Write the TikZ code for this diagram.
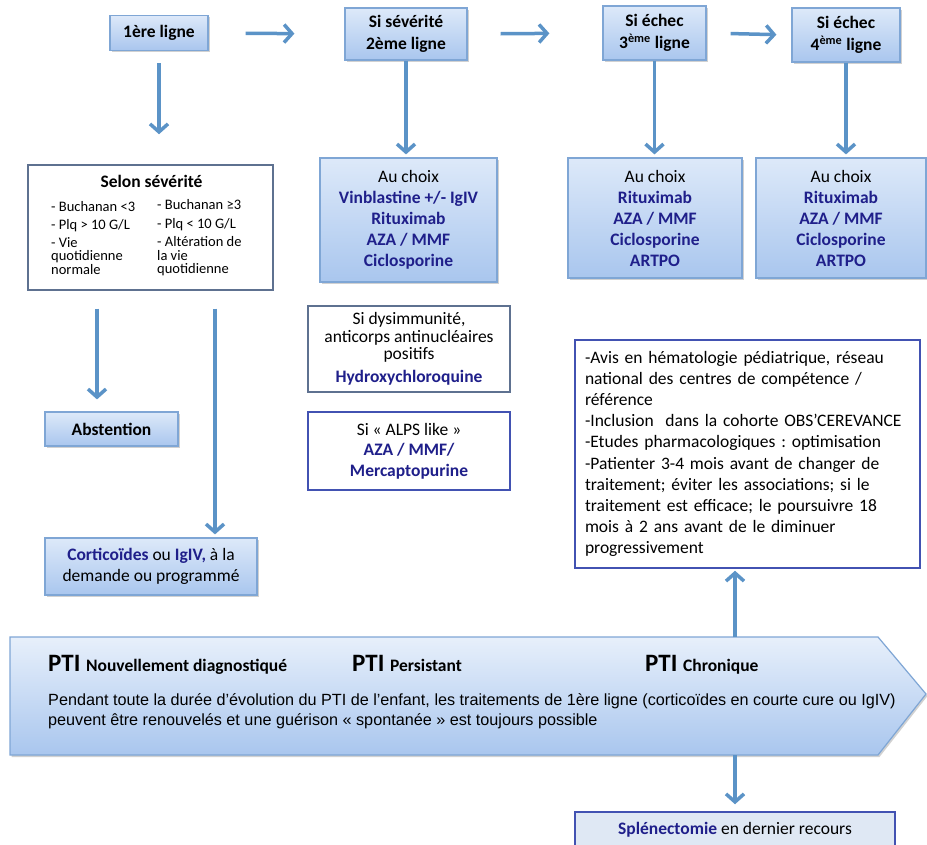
\documentclass[tikz,border=0pt]{standalone}
\usepackage{fontspec}
\setmainfont{Carlito}
\newfontfamily\arialfont{Liberation Sans}
\usetikzlibrary{arrows.meta,shadows}
\definecolor{boxtop}{HTML}{DDE9F9}
\definecolor{boxbot}{HTML}{A9C6EE}
\definecolor{boxline}{HTML}{7FA6D5}
\definecolor{flowblue}{HTML}{5B93C7}
\definecolor{navytxt}{HTML}{1F1F8A}
\definecolor{greyline}{HTML}{5E7190}
\definecolor{indigoline}{HTML}{4252B2}
\definecolor{splenfill}{HTML}{DFE8F4}
\newcommand{\drugname}[1]{\textbf{\textcolor{navytxt}{#1}}}
\frenchspacing

\begin{document}
\begin{tikzpicture}[x=1pt,y=-1pt,
 	bodyfont/.style={font=\fontsize{17.5}{21}\selectfont},
 	headfont/.style={font=\fontsize{17.5}{22}\selectfont\bfseries},
 	listfont/.style={font=\fontsize{14.5}{13.5}\selectfont},
 	bluebox/.style={draw=boxline, line width=1.2pt, top color=boxtop, bottom color=boxbot, inner sep=0pt, align=center, bodyfont,
 		drop shadow={shadow xshift=1.5pt, shadow yshift=-2pt, opacity=0.3, fill=black!60}},
 	whitebox/.style={draw=greyline, line width=1.5pt, fill=white, inner sep=0pt, align=center, bodyfont},
 	flow/.style={draw=flowblue, line width=3.5pt, -{Straight Barb[length=8pt,width=18pt]}}]
 	\useasboundingbox (0,0) rectangle (927,845);
 	\clip (0,0) rectangle (927,845);

 	\node[bluebox, headfont, minimum width=98pt, minimum height=35pt] (l1) at (159,33) {1ère ligne};
 	\node[bluebox, headfont, minimum width=122pt, minimum height=52pt] (l2) at (406,34) {Si sévérité\\2ème ligne};
 	\node[bluebox, headfont, minimum width=103pt, minimum height=54pt] (l3) at (654.5,33) {Si échec\\3\textsuperscript{ème} ligne};
 	\node[bluebox, headfont, minimum width=108pt, minimum height=54pt] (l4) at (846,35) {Si échec\\4\textsuperscript{ème} ligne};

 	\node[whitebox, minimum width=245pt, minimum height=125pt] (selon) at (150.5,227.5) {};
 	\node[headfont, inner sep=0pt] (selontitle) at (151.5,181) {Selon sévérité};
 	\node[listfont, align=left, inner sep=0pt, anchor=north west] (selonleft) at (51,201) {- Buchanan <3\\[4.5pt]- Plq > 10 G/L\\[4.5pt]- Vie\\quotidienne\\normale};
 	\node[listfont, align=left, inner sep=0pt, anchor=north west] (selonright) at (157,199) {- Buchanan ≥3\\[6pt]- Plq < 10 G/L\\[4.5pt]- Altération de\\la vie\\quotidienne};

 	\node[bluebox, minimum width=177pt, minimum height=124pt] (c2) at (408.5,220) {Au choix\\\drugname{Vinblastine +/- IgIV}\\\drugname{Rituximab}\\\drugname{AZA / MMF}\\\drugname{Ciclosporine}};
 	\node[bluebox, minimum width=174pt, minimum height=120pt] (c3) at (655,218) {Au choix\\\drugname{Rituximab}\\\drugname{AZA / MMF}\\\drugname{Ciclosporine}\\\drugname{ARTPO}};
 	\node[bluebox, minimum width=170pt, minimum height=120pt] (c4) at (841,218) {Au choix\\\drugname{Rituximab}\\\drugname{AZA / MMF}\\\drugname{Ciclosporine}\\\drugname{ARTPO}};

 	\node[whitebox, draw=greyline, font=\fontsize{17.5}{17.5}\selectfont, minimum width=202pt, minimum height=86pt] (hydro) at (409,349) {Si dysimmunité,\\anticorps antinucléaires\\positifs\\[5pt]\drugname{Hydroxychloroquine}};
 	\node[whitebox, draw=indigoline, font=\fontsize{17.5}{20.5}\selectfont, minimum width=202pt, minimum height=78pt] (alps) at (409,451) {Si «~ALPS like~»\\\drugname{AZA / MMF/}\\\drugname{Mercaptopurine}};

 	\node[whitebox, draw=indigoline, font=\fontsize{17.5}{21.2}\selectfont, align=left, text width=325pt, inner xsep=10pt, minimum height=228pt] (info) at (747.5,454) {-Avis en hématologie pédiatrique, réseau\\national des centres de compétence /\\référence\\-Inclusion\ \ dans la cohorte OBS’CEREVANCE\\-Etudes pharmacologiques : optimisation\\-Patienter 3-4 mois avant de changer de\\traitement; éviter les associations; si le\\traitement est efficace; le poursuivre 18\\mois à 2 ans avant de le diminuer\\progressivement};

 	\node[bluebox, headfont, minimum width=133pt, minimum height=34pt] (abst) at (111.5,429) {Abstention};
 	\node[bluebox, minimum width=212pt, minimum height=57pt] (cort) at (151,566.5) {\drugname{Corticoïdes} ou \drugname{IgIV,} à la\\demande ou programmé};

 	\path[draw=boxline, line width=1.2pt, top color=boxtop!70, bottom color=boxbot,
 		drop shadow={shadow xshift=1.5pt, shadow yshift=-2pt, opacity=0.3, fill=black!60}]
 		(10,637) -- (878,637) -- (926,694) -- (878,755) -- (10,755) -- cycle;
 	\coordinate (ptitop) at (735,637);
 	\coordinate (ptibot) at (735,755);
 	\node[anchor=base west, inner sep=0pt, font=\bfseries] (ptinew) at (48,671) {\fontsize{25}{25}\selectfont PTI \fontsize{17.5}{17.5}\selectfont Nouvellement diagnostiqué};
 	\node[anchor=base west, inner sep=0pt, font=\bfseries] (ptipers) at (352,671) {\fontsize{25}{25}\selectfont PTI \fontsize{17.5}{17.5}\selectfont Persistant};
 	\node[anchor=base west, inner sep=0pt, font=\bfseries] (pticron) at (645,671) {\fontsize{25}{25}\selectfont PTI \fontsize{17.5}{17.5}\selectfont Chronique};
 	\node[anchor=north west, inner sep=0pt, align=left, font=\arialfont\fontsize{16.2}{20.5}\selectfont] (ptitext) at (48,693) {Pendant toute la durée d’évolution du PTI de l’enfant, les traitements de 1ère ligne (corticoïdes en courte cure ou IgIV)\\peuvent être renouvelés et une guérison «~spontanée~» est toujours possible};

 	\node[whitebox, draw=indigoline, fill=splenfill, minimum width=320pt, minimum height=36pt] (splen) at (735,830) {\drugname{Splénectomie} en dernier recours};

 	\draw[flow, shorten <=37pt, shorten >=50pt] (l1.east) -- (l2.west);
 	\draw[flow, shorten <=33pt, shorten >=53pt] (l2.east) -- (l3.west);
 	\draw[flow, shorten <=24pt, shorten >=15pt] (l3.east) -- (l4.west);
 	\draw[flow, shorten <=12pt, shorten >=30pt] (l1.south) -- (l1.south |- selon.north);
 	\draw[flow, shorten >=3pt] (l2.south) -- (l2.south |- c2.north);
 	\draw[flow, shorten >=3pt] (l3.south) -- (l3.south |- c3.north);
 	\draw[flow, shorten >=3pt] (l4.south) -- (l4.south |- c4.north);
 	\coordinate (abstin) at ([xshift=-14.5pt]abst.north);
 	\coordinate (cortin) at ([xshift=64pt]cort.north);
 	\draw[flow, shorten <=18pt, shorten >=12pt] (abstin |- selon.south) -- (abstin);
 	\draw[flow, shorten <=18pt, shorten >=3pt] (cortin |- selon.south) -- (cortin);
 	\draw[flow, shorten >=2pt] (ptitop) -- (ptitop |- info.south);
 	\draw[flow, shorten >=7pt] (ptibot) -- (splen.north);
\end{tikzpicture}
\end{document}
